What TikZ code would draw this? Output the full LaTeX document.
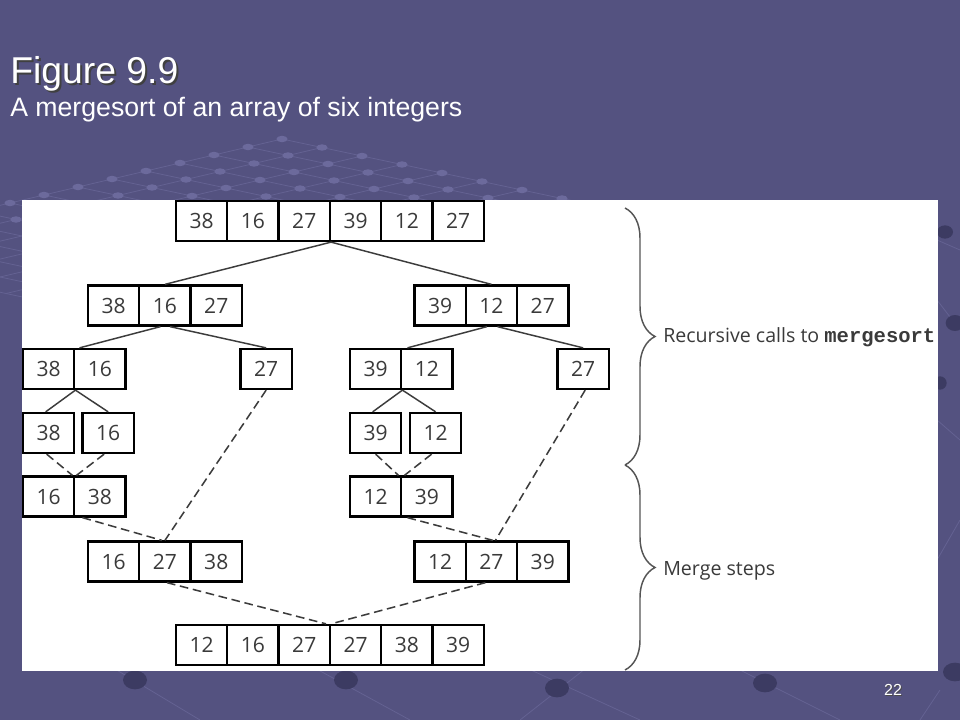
\documentclass[tikz,border=0pt]{standalone}
\usepackage{fontspec}
\setmainfont{Liberation Sans}
\newfontfamily\diagfont{Open Sans}
\newfontfamily\codefont{Liberation Mono}
\usetikzlibrary{decorations.pathreplacing,calc}
\definecolor{bgc}{RGB}{84,82,128}
\definecolor{gridc}{RGB}{100,98,146}
\definecolor{dotc}{RGB}{108,106,156}
\definecolor{ballc}{RGB}{60,59,98}
\definecolor{numc}{RGB}{58,58,58}
\definecolor{linec}{RGB}{60,60,60}
\definecolor{bracec}{RGB}{85,85,85}
\tikzset{
  cell/.style={draw=black, line width=1.7pt, fill=white, minimum width=38.5pt,
    minimum height=30pt, inner sep=0pt, text=numc, text height=11.3pt, text depth=0pt,
    font=\diagfont\fontsize{15.8}{17}\selectfont},
  tree/.style={draw=linec, line width=1.1pt},
  merge/.style={draw=linec, line width=1.15pt, dash pattern=on 6.5pt off 3.5pt},
  bracelines/.style={draw=bracec, line width=1.1pt,
    decorate, decoration={brace, amplitude=22.5pt, aspect=0.5}},
  bracelabel/.style={anchor=base west, inner sep=0pt, text=numc,
    font=\diagfont\fontsize{14.7}{16}\selectfont},
  gridline/.style={draw=gridc, line width=0.6pt},
  ball/.style={fill=ballc}
}
\def\W{51.3}
\begin{document}
\begin{tikzpicture}[x=0.75pt,y=-0.75pt]
\useasboundingbox (0,0) rectangle (960,720);
\fill[bgc] (0,0) rectangle (960,720);
% background lattice
\begin{scope}
  \clip (0,132) rectangle (960,720);
  \foreach \i in {0,...,14} {
    \draw[gridline] ({282-34*\i},{139+8*\i}) -- ++({14*40},{14*8.5});
    \draw[gridline] ({282+40*\i},{139+8.5*\i}) -- ++({-14*34},{14*8});
  }
  \foreach \i in {0,...,9} {
    \foreach \j in {0,...,9} {
      \fill[dotc] ({282-34*\i+40*\j},{139+8*\i+8.5*\j}) ellipse [x radius=4.2pt, y radius=2.4pt];
    }
  }
\end{scope}
% lower decoration
\draw[gridline] (100,660) -- (200,720);
\draw[gridline] (300,660) -- (410,720);
\draw[gridline] (520,665) -- (640,720);
\draw[gridline] (590,665) -- (520,720);
\draw[gridline] (720,660) -- (840,720);
\draw[gridline] (940,690) -- (920,720);
\draw[gridline] (937,240) -- (960,250);
\draw[gridline] (937,300) -- (960,330);
\draw[gridline] (937,420) -- (960,440);
\draw[gridline] (937,560) -- (960,520);
\fill[ball] (135,680) ellipse [x radius=9pt, y radius=7pt];
\fill[ball] (346,680) ellipse [x radius=9pt, y radius=7pt];
\fill[ball] (557,688) ellipse [x radius=9pt, y radius=7pt];
\fill[ball] (765,683) ellipse [x radius=9pt, y radius=7pt];
\fill[ball] (955,672) ellipse [x radius=9pt, y radius=7pt];
\fill[ball] (955,323) ellipse [x radius=7pt, y radius=6pt];
\fill[ball] (945,232) ellipse [x radius=6pt, y radius=5pt];
\fill[ball] (940,383) ellipse [x radius=5pt, y radius=5pt];
% titles
\node[anchor=base west, inner sep=0pt, text=black!75, font=\fontsize{28}{30}\selectfont] (titsh) at (12,86) {Figure 9.9};
\node[anchor=base west, inner sep=0pt, text=white, font=\fontsize{28}{30}\selectfont] (tit) at (10,84) {Figure 9.9};
\node[anchor=base west, inner sep=0pt, text=white, font=\fontsize{20}{22}\selectfont] (sub) at (10,117) {A mergesort of an array of six integers};
\node[anchor=base, inner sep=0pt, text=black!70, font=\fontsize{12}{14}\selectfont] (pgsh) at (894,696) {22};
\node[anchor=base, inner sep=0pt, text=white, font=\fontsize{12}{14}\selectfont] (pg) at (893,695) {22};
% white panel
\fill[white] (22,200) rectangle (937.5,671);
% row 1
\node[cell] (t1) at ({176+0.5*\W},221) {38};
\node[cell] (t2) at ({176+1.5*\W},221) {16};
\node[cell] (t3) at ({176+2.5*\W},221) {27};
\node[cell] (t4) at ({176+3.5*\W},221) {39};
\node[cell] (t5) at ({176+4.5*\W},221) {12};
\node[cell] (t6) at ({176+5.5*\W},221) {27};
% row 2
\node[cell] (a1) at ({88+0.5*\W},305.5) {38};
\node[cell] (a2) at ({88+1.5*\W},305.5) {16};
\node[cell] (a3) at ({88+2.5*\W},305.5) {27};
\node[cell] (b1) at ({414.5+0.5*\W},305.5) {39};
\node[cell] (b2) at ({414.5+1.5*\W},305.5) {12};
\node[cell] (b3) at ({414.5+2.5*\W},305.5) {27};
% row 3
\node[cell] (c1) at ({23+0.5*\W},369) {38};
\node[cell] (c2) at ({23+1.5*\W},369) {16};
\node[cell] (d) at ({240.5+0.5*\W},369) {27};
\node[cell] (e1) at ({350+0.5*\W},369) {39};
\node[cell] (e2) at ({350+1.5*\W},369) {12};
\node[cell] (f) at ({557.5+0.5*\W},369) {27};
% row 4
\node[cell] (g1) at ({23+0.5*\W},433) {38};
\node[cell] (g2) at ({82.5+0.5*\W},433) {16};
\node[cell] (k1) at ({350+0.5*\W},433) {39};
\node[cell] (k2) at ({410+0.5*\W},433) {12};
% row 5
\node[cell] (h1) at ({23+0.5*\W},496.5) {16};
\node[cell] (h2) at ({23+1.5*\W},496.5) {38};
\node[cell] (m1) at ({350+0.5*\W},496.5) {12};
\node[cell] (m2) at ({350+1.5*\W},496.5) {39};
% row 6
\node[cell] (i1) at ({88+0.5*\W},561.5) {16};
\node[cell] (i2) at ({88+1.5*\W},561.5) {27};
\node[cell] (i3) at ({88+2.5*\W},561.5) {38};
\node[cell] (j1) at ({414.5+0.5*\W},561.5) {12};
\node[cell] (j2) at ({414.5+1.5*\W},561.5) {27};
\node[cell] (j3) at ({414.5+2.5*\W},561.5) {39};
% row 7
\node[cell] (s1) at ({176+0.5*\W},645) {12};
\node[cell] (s2) at ({176+1.5*\W},645) {16};
\node[cell] (s3) at ({176+2.5*\W},645) {27};
\node[cell] (s4) at ({176+3.5*\W},645) {27};
\node[cell] (s5) at ({176+4.5*\W},645) {38};
\node[cell] (s6) at ({176+5.5*\W},645) {39};
% recursive calls (solid)
\draw[tree] (t3.south east) -- (a2.north);
\draw[tree] (t3.south east) -- (b2.north);
\draw[tree] ($(a2.south)+(-4.5,0)$) -- ($(c1.north east)+(4,0)$);
\draw[tree] ($(a2.south)+(5,0)$) -- (d.north);
\draw[tree] ($(b2.south)+(-4.5,0)$) -- ($(e1.north east)+(5,0)$);
\draw[tree] ($(b2.south)+(6,0)$) -- (f.north);
\draw[tree] (c1.south east) -- ($(g1.north)+(-3,0)$);
\draw[tree] (c1.south east) -- (g2.north);
\draw[tree] (e1.south east) -- ($(k1.north)+(-3,0)$);
\draw[tree] (e1.south east) -- (k2.north);
% merge steps (dashed)
\draw[merge] ($(g1.south)+(-2,0)$) -- ($(h1.north east)+(-3,0)$);
\draw[merge] ($(g2.south)+(-4,0)$) -- ($(h1.north east)+(1,0)$);
\draw[merge] (k1.south) -- ($(m1.north east)+(-4,0)$);
\draw[merge] ($(k2.south)+(-4,0)$) -- ($(m1.north east)+(2,0)$);
\draw[merge] ($(h1.south east)+(7,0)$) -- ($(i2.north)+(-3,0)$);
\draw[merge] (d.south) -- (i2.north);
\draw[merge] ($(m1.south east)+(5,0)$) -- ($(j2.north)+(1.5,0)$);
\draw[merge] ($(f.south)+(2,0)$) -- ($(j2.north)+(4,0)$);
\draw[merge] ($(i2.south)+(2,0)$) -- ($(s3.north east)+(-5,0)$);
\draw[merge] ($(j2.south)+(-6,0)$) -- (s3.north east);
% braces
\coordinate (bt) at (625,208);
\coordinate (bm) at (625,465);
\coordinate (bb) at (625,670);
\draw[bracelines] (bt) -- (bm);
\draw[bracelines] (bm) -- (bb);
\node[bracelabel] (lab1) at (663,342.7) {Recursive calls to {\codefont\bfseries\fontsize{15.4}{16}\selectfont mergesort}};
\node[bracelabel] (lab2) at (663,575) {Merge steps};
\end{tikzpicture}
\end{document}
